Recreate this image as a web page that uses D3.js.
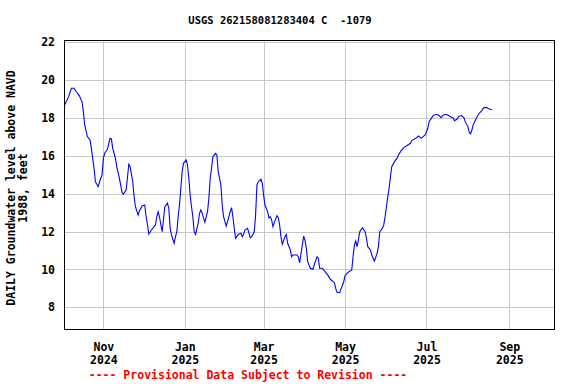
<!DOCTYPE html>
<html>
<head>
<meta charset="utf-8">
<script src="https://cdn.jsdelivr.net/npm/d3@7"></script>
<style>
  body { margin: 0; background: #fff; }
  text { font-family: "DejaVu Sans Mono", "Liberation Mono", monospace; font-weight: bold; }
</style>
</head>
<body>
<div id="chart"></div>
<script>
// daily groundwater level readings
var dates = [
  "2024-10-03","2024-10-06","2024-10-08","2024-10-10","2024-10-12","2024-10-14","2024-10-16","2024-10-17",
  "2024-10-18","2024-10-20","2024-10-22","2024-10-23","2024-10-24","2024-10-25","2024-10-26","2024-10-28",
  "2024-10-30","2024-10-31","2024-11-01","2024-11-02","2024-11-04","2024-11-06","2024-11-07","2024-11-08",
  "2024-11-10","2024-11-11","2024-11-13","2024-11-15","2024-11-16","2024-11-18","2024-11-19","2024-11-20",
  "2024-11-21","2024-11-23","2024-11-24","2024-11-25","2024-11-27","2024-11-28","2024-11-30","2024-12-02",
  "2024-12-03","2024-12-04","2024-12-05","2024-12-07","2024-12-10","2024-12-11","2024-12-12","2024-12-13",
  "2024-12-15","2024-12-16","2024-12-17","2024-12-19","2024-12-20","2024-12-21","2024-12-22","2024-12-24",
  "2024-12-25","2024-12-26","2024-12-27","2024-12-28","2024-12-29","2024-12-30","2024-12-31","2025-01-02",
  "2025-01-03","2025-01-04","2025-01-05","2025-01-06","2025-01-07","2025-01-08","2025-01-09","2025-01-11",
  "2025-01-12","2025-01-13","2025-01-14","2025-01-16","2025-01-18","2025-01-19","2025-01-20","2025-01-21",
  "2025-01-22","2025-01-24","2025-01-25","2025-01-26","2025-01-28","2025-01-29","2025-01-30","2025-02-01",
  "2025-02-02","2025-02-04","2025-02-05","2025-02-06","2025-02-07","2025-02-08","2025-02-10","2025-02-12",
  "2025-02-13","2025-02-14","2025-02-15","2025-02-17","2025-02-19","2025-02-20","2025-02-22","2025-02-23",
  "2025-02-24","2025-02-25","2025-02-27","2025-02-28","2025-03-01","2025-03-02","2025-03-04","2025-03-05",
  "2025-03-06","2025-03-07","2025-03-08","2025-03-09","2025-03-11","2025-03-12","2025-03-13","2025-03-14",
  "2025-03-15","2025-03-17","2025-03-18","2025-03-19","2025-03-21","2025-03-22","2025-03-23","2025-03-26",
  "2025-03-27","2025-03-28","2025-03-30","2025-03-31","2025-04-01","2025-04-02","2025-04-03","2025-04-05",
  "2025-04-07","2025-04-08","2025-04-10","2025-04-11","2025-04-12","2025-04-14","2025-04-16","2025-04-18",
  "2025-04-20","2025-04-23","2025-04-24","2025-04-25","2025-04-27","2025-04-28","2025-04-30","2025-05-01",
  "2025-05-03","2025-05-06","2025-05-07","2025-05-08","2025-05-09","2025-05-10","2025-05-11","2025-05-12",
  "2025-05-14","2025-05-16","2025-05-17","2025-05-18","2025-05-20","2025-05-21","2025-05-23","2025-05-25",
  "2025-05-26","2025-05-27","2025-05-29","2025-05-30","2025-05-31","2025-06-01","2025-06-02","2025-06-03",
  "2025-06-04","2025-06-05","2025-06-07","2025-06-09","2025-06-10","2025-06-12","2025-06-14","2025-06-17",
  "2025-06-19","2025-06-20","2025-06-23","2025-06-25","2025-06-27","2025-06-28","2025-06-30","2025-07-02",
  "2025-07-03","2025-07-05","2025-07-06","2025-07-08","2025-07-10","2025-07-12","2025-07-13","2025-07-15",
  "2025-07-17","2025-07-19","2025-07-21","2025-07-22","2025-07-24","2025-07-25","2025-07-27","2025-07-29",
  "2025-07-30","2025-08-01","2025-08-02","2025-08-03","2025-08-04","2025-08-05","2025-08-07","2025-08-09",
  "2025-08-11","2025-08-13","2025-08-15","2025-08-17","2025-08-19"
];

var levels = [
  18.68,19.12,19.56,19.56,19.35,19.16,18.86,18.33,
  17.63,17.01,16.83,16.39,15.87,15.34,14.63,14.37,
  14.81,14.99,15.87,16.13,16.34,16.92,16.89,16.39,
  15.87,15.42,14.81,14.05,13.98,14.19,14.81,15.55,
  15.42,14.63,13.84,13.31,12.87,13.10,13.35,13.40,
  12.78,12.38,11.87,12.08,12.35,12.78,13.05,12.78,
  11.99,12.61,13.31,13.49,13.23,12.17,11.82,11.38,
  11.73,11.99,12.78,13.40,14.28,15.16,15.60,15.78,
  15.51,14.81,13.93,13.31,12.78,11.99,11.85,12.44,
  12.96,13.14,12.96,12.49,13.05,13.75,14.81,15.34,
  15.95,16.13,16.04,15.16,14.46,13.40,12.78,12.29,
  12.52,13.05,13.26,12.78,12.17,11.64,11.85,11.91,
  11.73,11.85,12.08,12.17,11.67,11.73,11.99,12.87,
  14.46,14.63,14.76,14.55,13.93,13.40,13.05,12.73,
  12.78,12.61,12.26,12.47,12.84,12.73,12.35,11.73,
  11.33,11.73,11.85,11.38,11.03,10.67,10.76,10.76,
  10.67,10.35,11.29,11.76,11.55,11.12,10.41,10.06,
  10.01,10.27,10.67,10.59,10.06,10.06,9.88,9.71,
  9.48,9.30,9.00,8.79,8.77,8.97,9.35,9.67,
  9.83,9.97,10.67,11.29,11.50,11.20,11.55,11.99,
  12.20,11.99,11.67,11.20,11.03,10.76,10.44,10.85,
  11.20,11.99,12.17,12.35,12.78,13.31,13.84,14.28,
  14.90,15.42,15.69,15.87,16.04,16.27,16.43,16.57,
  16.66,16.80,16.92,17.04,16.92,16.98,17.10,17.45,
  17.80,18.01,18.12,18.19,18.15,18.01,18.12,18.19,
  18.15,18.06,17.98,17.85,17.94,18.08,18.12,18.01,
  17.80,17.54,17.24,17.15,17.36,17.63,17.94,18.19,
  18.36,18.54,18.54,18.47,18.43
];

// axis ticks
var yTicks = [8, 10, 12, 14, 16, 18, 20, 22];
var xTickDates = ["2024-11-01", "2025-01-01", "2025-03-01", "2025-05-01", "2025-07-01", "2025-09-01"];
var xTickMonths = ["Nov", "Jan", "Mar", "May", "Jul", "Sep"];
var xTickYears = ["2024", "2025", "2025", "2025", "2025", "2025"];

var titleText = "USGS 262158081283404 C  -1079";
var yLabel1 = "DAILY Groundwater level above NAVD";
var yLabel2 = "1988, feet";
var footText = "---- Provisional Data Subject to Revision ----";

var svgWidth = 576;
var svgHeight = 384;

// plot frame
var margin = { top: 40, right: 22, bottom: 55, left: 64 };
var chartWidth = svgWidth - margin.left - margin.right;
var chartHeight = svgHeight - margin.top - margin.bottom;

var parseDate = d3.utcParse("%Y-%m-%d");

var data = dates.map(function(d, i) {
  return { date: parseDate(d), level: levels[i] };
});

var svg = d3.select("#chart")
  .append("svg")
  .attr("width", svgWidth)
  .attr("height", svgHeight);

var chartGroup = svg.append("g")
  .attr("transform", `translate(${margin.left}, ${margin.top})`);

var xScale = d3.scaleUtc()
  .domain([Date.UTC(2024, 9, 2, 12), Date.UTC(2025, 9, 4, 12)])
  .range([0, chartWidth]);

var yScale = d3.scaleLinear()
  .domain([6.855, 22.11])
  .range([chartHeight, 0]);

// gridlines
chartGroup.selectAll(".hgrid")
  .data(yTicks)
  .enter()
  .append("line")
  .attr("x1", 0)
  .attr("x2", chartWidth)
  .attr("y1", d => Math.round(yScale(d)) + 0.5)
  .attr("y2", d => Math.round(yScale(d)) + 0.5)
  .attr("stroke", "#c8c8c8")
  .attr("shape-rendering", "crispEdges");

chartGroup.selectAll(".vgrid")
  .data(xTickDates)
  .enter()
  .append("line")
  .attr("y1", 0)
  .attr("y2", chartHeight)
  .attr("x1", d => Math.round(xScale(parseDate(d))) + 0.5)
  .attr("x2", d => Math.round(xScale(parseDate(d))) + 0.5)
  .attr("stroke", "#c8c8c8")
  .attr("shape-rendering", "crispEdges");

// y axis labels
var yAxis = d3.axisLeft(yScale)
  .tickValues(yTicks)
  .tickSize(0)
  .tickPadding(9);

var yAxisGroup = chartGroup.append("g").call(yAxis);
yAxisGroup.select(".domain").remove();
yAxisGroup.selectAll("text")
  .attr("font-size", "11.5px")
  .attr("fill", "#000")
  .style("font-family", "DejaVu Sans Mono, monospace")
  .style("font-weight", "bold");

// x axis labels, two rows
var xAxis = d3.axisBottom(xScale)
  .tickValues(xTickDates.map(parseDate))
  .tickSize(0)
  .tickPadding(14)
  .tickFormat((d, i) => xTickMonths[i]);

var xAxisGroup = chartGroup.append("g")
  .attr("transform", `translate(0, ${chartHeight})`)
  .call(xAxis);
xAxisGroup.select(".domain").remove();
xAxisGroup.selectAll("text")
  .attr("font-size", "11.5px")
  .attr("fill", "#000")
  .style("font-family", "DejaVu Sans Mono, monospace")
  .style("font-weight", "bold");

xAxisGroup.selectAll(".tick")
  .append("text")
  .attr("y", 27)
  .attr("dy", "0.71em")
  .attr("text-anchor", "middle")
  .attr("font-size", "11.5px")
  .attr("fill", "#000")
  .text((d, i) => xTickYears[i]);

// the series
var line = d3.line()
  .x(d => xScale(d.date))
  .y(d => yScale(d.level));

chartGroup.append("path")
  .datum(data)
  .attr("d", line)
  .attr("fill", "none")
  .attr("stroke", "#0000ff")
  .attr("stroke-width", 1.1);

// frame
chartGroup.append("rect")
  .attr("x", 0.5)
  .attr("y", 0.5)
  .attr("width", chartWidth)
  .attr("height", chartHeight)
  .attr("fill", "none")
  .attr("stroke", "#000")
  .attr("shape-rendering", "crispEdges");

// title
svg.append("text")
  .attr("x", 280)
  .attr("y", 24)
  .attr("text-anchor", "middle")
  .attr("font-size", "10.5px")
  .attr("xml:space", "preserve")
  .style("white-space", "pre")
  .text(titleText);

// y axis title
svg.append("text")
  .attr("transform", "translate(15, 188) rotate(-90)")
  .attr("text-anchor", "middle")
  .attr("font-size", "11.5px")
  .text(yLabel1);

svg.append("text")
  .attr("transform", "translate(27, 188) rotate(-90)")
  .attr("text-anchor", "middle")
  .attr("font-size", "11.5px")
  .text(yLabel2);

// footer
svg.append("text")
  .attr("x", 248)
  .attr("y", 379)
  .attr("text-anchor", "middle")
  .attr("font-size", "11.5px")
  .attr("fill", "#ff0000")
  .text(footText);
</script>
</body>
</html>
